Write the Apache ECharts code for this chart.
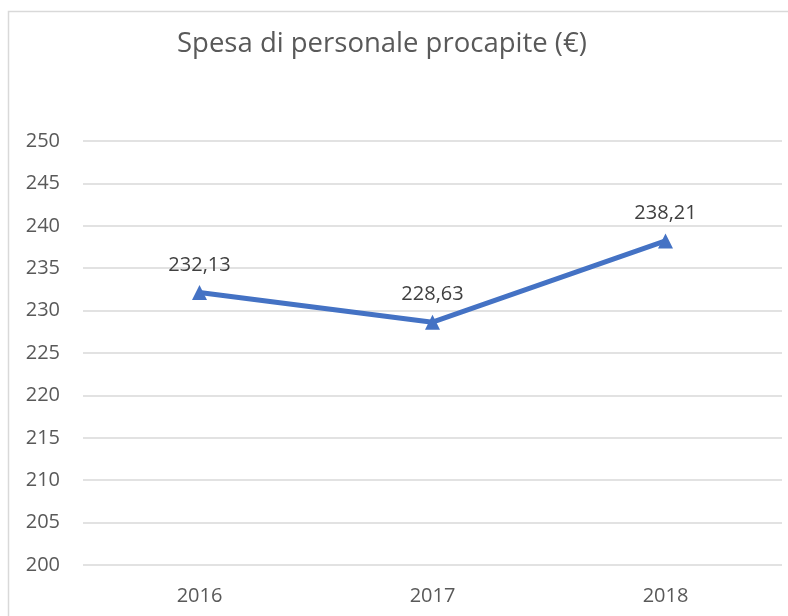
<!DOCTYPE html>
<html>
<head>
<meta charset="utf-8">
<script src="https://cdn.jsdelivr.net/npm/echarts@6/dist/echarts.min.js"></script>
<style>
  html, body { margin: 0; padding: 0; background: #fff; }
  #chart { width: 788px; height: 616px; }
</style>
</head>
<body>
<div id="chart"></div>
<script>
const years = ['2016', '2017', '2018']
const spesa = [232.13, 228.63, 238.21]
const yMin = 200
const yMax = 250
const yStep = 5

const chart = echarts.init(document.getElementById('chart'))

chart.setOption({
  backgroundColor: '#fff',
  animation: false,
  textStyle: { fontFamily: '"Open Sans", sans-serif' },
  title: {
    text: 'Spesa di personale procapite (€)',
    left: 172,
    top: 25,
    textStyle: { color: '#595959', fontSize: 27.5, fontWeight: 'normal', fontFamily: '"Open Sans", sans-serif' }
  },
  graphic: [{
    type: 'rect',
    shape: { x: 8.5, y: 11.5, width: 800, height: 640 },
    style: { fill: 'none', stroke: '#d9d9d9', lineWidth: 1.5 },
    silent: true
  }],
  grid: { left: 83, right: 6, top: 141, bottom: 51 },
  xAxis: {
    type: 'category',
    data: years,
    boundaryGap: true,
    axisLine: { show: false },
    axisTick: { show: false },
    axisLabel: { color: '#595959', fontSize: 20, margin: 21 }
  },
  yAxis: {
    type: 'value',
    min: yMin,
    max: yMax,
    interval: yStep,
    axisLine: { show: false },
    axisTick: { show: false },
    axisLabel: { color: '#595959', fontSize: 20, margin: 23 },
    splitLine: { lineStyle: { color: '#d9d9d9', width: 1.5 } }
  },
  series: [{
    type: 'line',
    data: spesa,
    symbol: 'triangle',
    symbolSize: 15,
    lineStyle: { color: '#4472C4', width: 5 },
    itemStyle: { color: '#4472C4' },
    label: {
      show: true,
      position: 'top',
      distance: 10,
      color: '#404040',
      fontSize: 20,
      formatter: (p) => p.value.toFixed(2).replace('.', ',')
    }
  }]
})
</script>
</body>
</html>
